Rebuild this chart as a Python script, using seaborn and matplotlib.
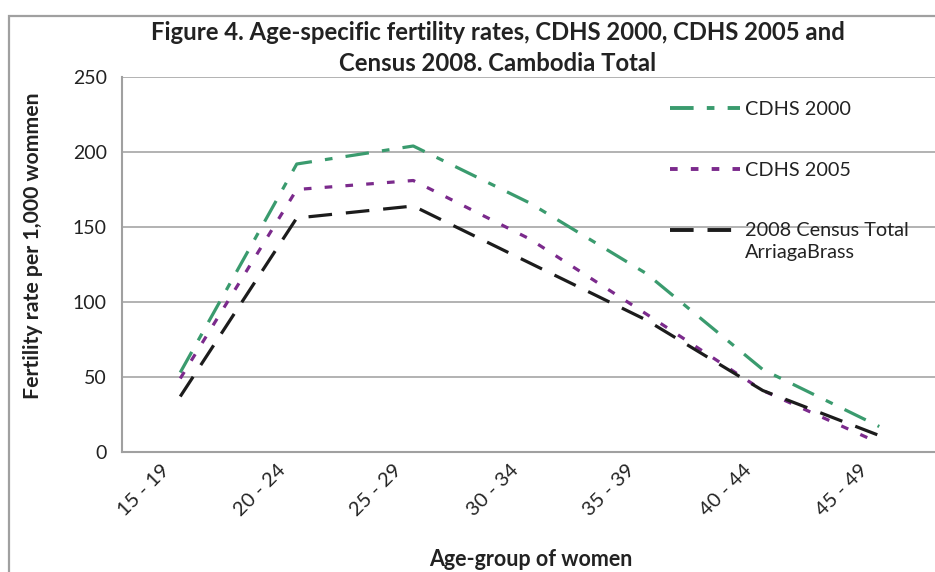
import numpy as np
import pandas as pd
import matplotlib
matplotlib.use("Agg")
import matplotlib.pyplot as plt
import matplotlib.transforms as mtransforms
from matplotlib.patches import Rectangle
from matplotlib.lines import Line2D
from matplotlib.legend_handler import HandlerLine2D
import seaborn as sns

# Age-specific fertility rates (births per 1,000 women)
age_groups = ["15 - 19", "20 - 24", "25 - 29", "30 - 34", "35 - 39", "40 - 44", "45 - 49"]
cdhs_2000 = [53, 192, 204, 166, 119, 55, 17]
cdhs_2005 = [49, 175, 181, 142, 92, 41, 6]
census_2008 = [37, 156, 164, 126, 88, 41, 11]
series_names = ["CDHS 2000", "CDHS 2005", "2008 Census Total\nArriagaBrass"]
y_ticks = [0, 50, 100, 150, 200, 250]

colors = {"CDHS 2000": "#3a9b6e", "CDHS 2005": "#7b2a8c",
          "2008 Census Total\nArriagaBrass": "#1c1c1c"}
dash_styles = {"CDHS 2000": (17, 9.5, 5.5, 9.5),
               "CDHS 2005": (5.5, 9.5),
               "2008 Census Total\nArriagaBrass": (17, 10)}

sns.set_theme(style="white")
plt.rcParams["font.family"] = ["Lato", "DejaVu Sans"]
plt.rcParams["lines.scale_dashes"] = False

pos = np.arange(len(age_groups))
df = pd.DataFrame({
    "pos": np.tile(pos, 3),
    "rate": cdhs_2000 + cdhs_2005 + census_2008,
    "series": np.repeat(series_names, len(age_groups)),
})

W, H = 935, 572
fig = plt.figure(figsize=(W / 100, H / 100), dpi=100)

# outer chart frame
fig.patches.append(Rectangle((9 / W, -0.05), 1.2, (H - 16) / H + 0.05,
                             transform=fig.transFigure, fill=False,
                             edgecolor="#a0a0a0", linewidth=1.6, zorder=0))

ax_left, ax_right, ax_top, ax_bottom = 122, 937.5, 77, 452
ax = fig.add_axes([ax_left / W, (H - ax_bottom) / H,
                   (ax_right - ax_left) / W, (ax_bottom - ax_top) / H])

sns.lineplot(data=df, x="pos", y="rate", hue="series", style="series",
             hue_order=series_names, style_order=series_names,
             palette=colors, dashes=dash_styles, linewidth=2.3,
             legend=False, ax=ax, sort=False)

ax.set_xlim(-0.5, len(age_groups) - 0.5)
ax.set_ylim(0, 250)
ax.set_yticks(y_ticks)
ax.yaxis.grid(True, color="#a6a6a6", linewidth=1.2)
ax.set_axisbelow(True)
ax.xaxis.grid(False)

for side in ("top", "right"):
    ax.spines[side].set_visible(False)
for side in ("left", "bottom"):
    ax.spines[side].set_color("#a0a0a0")
    ax.spines[side].set_linewidth(1.5)

# category labels at centres, tick marks on the category boundaries
ax.set_xticks(pos)
ax.set_xticklabels(age_groups, rotation=45, ha="right", va="top",
                   rotation_mode="anchor", fontsize=14.5, color="#222222")
ax.set_xticks(np.arange(-0.5, len(age_groups)), minor=True)
ax.tick_params(axis="x", which="major", length=0, pad=7)
ax.tick_params(axis="x", which="minor", length=6, width=1.3, color="#a0a0a0",
               direction="out")
ax.tick_params(axis="y", length=7, width=1.3, color="#a0a0a0", direction="out",
               pad=4, labelsize=14, labelcolor="#222222")
shift = mtransforms.ScaledTranslation(-20 / 100, 0, fig.dpi_scale_trans)
for lab in ax.get_xticklabels():
    lab.set_transform(lab.get_transform() + shift)

ax.set_xlabel("")
ax.set_ylabel("")
fig.text(531 / W, 1 - 560 / H, "Age-group of women", ha="center", va="center",
         fontsize=15.5, fontweight="bold", color="#222222")
fig.text(33 / W, 1 - 246 / H, "Fertility rate per 1,000 wommen", ha="center",
         va="center", rotation=90, fontsize=15.3, fontweight="bold", color="#222222")
fig.text(498 / W, 1 - 48 / H,
         "Figure 4. Age-specific fertility rates, CDHS 2000, CDHS 2005 and\n"
         "Census 2008. Cambodia Total",
         ha="center", va="center", fontsize=17.2, fontweight="bold",
         color="#222222", linespacing=1.38)


class FirstLineHandler(HandlerLine2D):
    """Place the legend glyph level with the first line of a two-line label."""

    def __init__(self, dy, **kw):
        super().__init__(**kw)
        self.dy = dy

    def create_artists(self, legend, orig_handle, xdescent, ydescent, width,
                       height, fontsize, trans):
        trans = trans + mtransforms.Affine2D().translate(0, self.dy)
        return super().create_artists(legend, orig_handle, xdescent, ydescent,
                                      width, height, fontsize, trans)


handles = [Line2D([], [], color=colors[n], linewidth=2.8, dashes=dash_styles[n])
           for n in series_names]
leg = ax.legend(handles, series_names, loc="upper left",
                bbox_to_anchor=(662 / W, 1 - 93 / H), bbox_transform=fig.transFigure,
                frameon=False, fontsize=14.3, handlelength=3.55, handletextpad=0.25,
                labelspacing=2.2, borderaxespad=0,
                handler_map={handles[2]: FirstLineHandler(12)})
for t in leg.get_texts():
    t.set_color("#222222")
    t.set_linespacing(1.35)

fig.savefig("out.png", dpi=100)
